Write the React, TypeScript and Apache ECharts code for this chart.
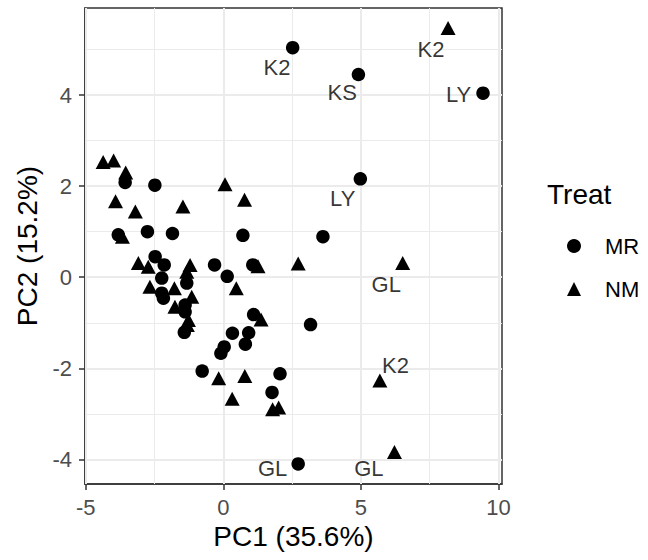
import React, { useEffect, useRef } from 'react';
import * as echarts from 'echarts';

// MR (circles)
const MR_PC1 = [2.52, 4.91, 9.44, 4.98, 3.62, 3.17, 2.72, 2.06, 1.77, -0.77, -0.09, 0.03, 0.33, 0.92, 0.80, 1.10, 0.14, -0.32, 0.71, 1.07, -2.49, -3.57, -2.76, -1.85, -3.82, -2.48, -2.15, -2.24, -2.24, -2.18, -1.33, -1.39, -1.39, -1.42];
const MR_PC2 = [5.04, 4.45, 4.04, 2.16, 0.89, -1.04, -4.10, -2.12, -2.53, -2.06, -1.67, -1.53, -1.23, -1.22, -1.47, -0.82, 0.02, 0.27, 0.92, 0.27, 2.02, 2.08, 1.00, 0.96, 0.93, 0.45, 0.27, -0.02, -0.35, -0.46, -0.13, -0.61, -0.76, -1.21];

// NM (triangles)
const NM_PC1 = [-4.37, -3.99, -3.55, -3.92, -3.20, -1.47, 0.06, 0.77, -3.67, -3.09, -2.73, -2.67, -1.78, -1.76, -1.21, -1.33, -1.15, -1.27, -1.31, 0.47, 2.72, 1.26, 1.37, 6.52, 0.78, -0.17, 0.32, 1.79, 2.01, 5.69, 6.22, 8.17];
const NM_PC2 = [2.53, 2.56, 2.30, 1.67, 1.44, 1.55, 2.04, 1.70, 0.89, 0.31, 0.23, -0.21, -0.24, -0.65, 0.27, 0.12, -0.43, -0.94, -1.05, -0.24, 0.30, 0.24, -0.93, 0.31, -2.17, -2.22, -2.67, -2.90, -2.86, -2.27, -3.84, 5.47];

// Point labels (text positions in data units)
const LABEL_TEXT = ['K2', 'KS', 'LY', 'K2', 'LY', 'GL', 'K2', 'GL', 'GL'];
const LABEL_PC1 = [1.95, 4.32, 8.55, 7.55, 4.34, 5.92, 6.26, 1.79, 5.29];
const LABEL_PC2 = [4.61, 4.05, 4.01, 5.00, 1.73, -0.17, -1.94, -4.21, -4.21];

// Axes
const X_MIN = -5.03;
const X_MAX = 10.13;
const Y_MIN = -4.54;
const Y_MAX = 5.91;
const X_TICKS = [-5, 0, 5, 10];
const Y_TICKS = [-4, -2, 0, 2, 4];
const X_MINOR = [-2.5, 2.5, 7.5];
const Y_MINOR = [-3, -1, 1, 3, 5];

const LEGEND_NAMES = ['MR', 'NM'];
const FONT = '"Liberation Sans", Arial, Helvetica, sans-serif';

export default function App() {
  const ref = useRef<HTMLDivElement>(null);

  useEffect(() => {
    document.body.style.margin = '0';
    const chart = echarts.init(ref.current as HTMLDivElement, null, { renderer: 'svg' });

    const axisLine = { show: true, onZero: false, lineStyle: { color: '#333333', width: 1.5 } };
    const axisTickStyle = { color: '#333333', width: 1.5 };

    const gridLineSeries = (name: string, xs: number[], ys: number[], width: number) => ({
      type: 'scatter',
      name,
      data: [],
      silent: true,
      z: 1,
      markLine: {
        silent: true,
        z: 1,
        symbol: ['none', 'none'],
        label: { show: false },
        emphasis: { disabled: true },
        lineStyle: { color: '#EBEBEB', width, type: 'solid' },
        data: [...xs.map((v) => ({ xAxis: v })), ...ys.map((v) => ({ yAxis: v }))],
      },
    });

    const option: any = {
      animation: false,
      backgroundColor: '#ffffff',
      grid: {
        left: 85,
        top: 8,
        width: 417,
        height: 476,
        show: true,
        borderColor: '#333333',
        borderWidth: 1.5,
        backgroundColor: '#ffffff',
        containLabel: false,
        outerBoundsMode: 'none',
      },
      xAxis: {
        type: 'value',
        min: X_MIN,
        max: X_MAX,
        axisLine,
        axisTick: { show: true, length: 6, lineStyle: axisTickStyle, customValues: X_TICKS },
        axisLabel: { customValues: X_TICKS, color: '#4D4D4D', fontSize: 22, fontFamily: FONT, margin: 12 },
        splitLine: { show: false },
        name: 'PC1 (35.6%)',
        nameLocation: 'middle',
        nameGap: 38,
        nameTextStyle: { fontSize: 28, color: '#000000', fontFamily: FONT, verticalAlign: 'top' },
      },
      yAxis: {
        type: 'value',
        min: Y_MIN,
        max: Y_MAX,
        axisLine,
        axisTick: { show: true, length: 6, lineStyle: axisTickStyle, customValues: Y_TICKS },
        axisLabel: { customValues: Y_TICKS, color: '#4D4D4D', fontSize: 22, fontFamily: FONT, margin: 13 },
        splitLine: { show: false },
        name: 'PC2 (15.2%)',
        nameLocation: 'middle',
        nameRotate: 90,
        nameGap: 44,
        nameTextStyle: { fontSize: 28, color: '#000000', fontFamily: FONT },
      },
      legend: {
        data: LEGEND_NAMES,
        orient: 'vertical',
        left: 562,
        top: 230,
        itemWidth: 14,
        itemHeight: 14,
        itemGap: 21,
        selectedMode: false,
        textStyle: { fontSize: 22, color: '#000000', fontFamily: FONT, lineHeight: 22, padding: [0, 0, 0, 19] },
      },
      graphic: [
        {
          type: 'text',
          left: 547,
          top: 180,
          style: { text: 'Treat', fontSize: 28, fontFamily: FONT, fill: '#000000' },
        },
      ],
      series: [
        gridLineSeries('minorGrid', X_MINOR, Y_MINOR, 1),
        gridLineSeries('majorGrid', X_TICKS, Y_TICKS, 2),
        {
          type: 'scatter',
          name: 'MR',
          symbol: 'circle',
          symbolSize: 13.5,
          itemStyle: { color: '#000000', opacity: 1 },
          data: MR_PC1.map((x, i) => [x, MR_PC2[i]]),
          z: 3,
        },
        {
          type: 'scatter',
          name: 'NM',
          symbol: 'triangle',
          symbolSize: [15, 14],
          itemStyle: { color: '#000000', opacity: 1 },
          data: NM_PC1.map((x, i) => [x, NM_PC2[i]]),
          z: 3,
        },
        {
          type: 'scatter',
          name: 'labels',
          silent: true,
          symbolSize: 1,
          itemStyle: { color: 'transparent' },
          data: LABEL_PC1.map((x, i) => ({ value: [x, LABEL_PC2[i]], name: LABEL_TEXT[i] })),
          label: {
            show: true,
            position: 'inside',
            formatter: '{b}',
            fontSize: 22,
            color: '#000000',
            fontFamily: FONT,
          },
          z: 4,
        },
      ],
    };

    chart.setOption(option);
    return () => chart.dispose();
  }, []);

  return <div ref={ref} style={{ width: 648, height: 560 }} />;
}
